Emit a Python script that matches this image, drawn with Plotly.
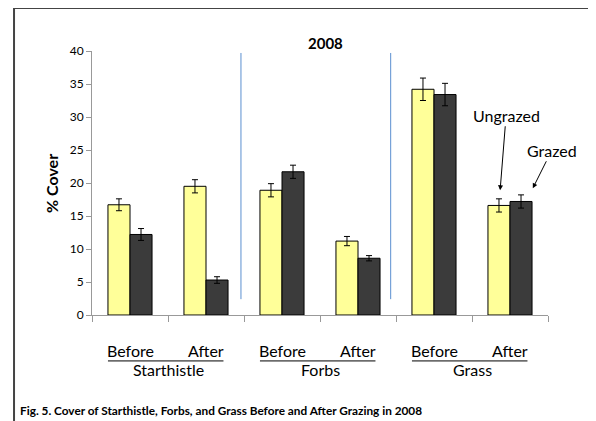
import plotly.graph_objects as go

groups = ["Starthistle", "Forbs", "Grass"]
periods = ["Before", "After", "Before", "After", "Before", "After"]
ungrazed = [16.7, 19.5, 18.9, 11.2, 34.2, 16.6]
grazed = [12.2, 5.3, 21.7, 8.6, 33.4, 17.2]
ungrazed_err = [0.9, 1.0, 1.0, 0.7, 1.7, 1.0]
grazed_err = [0.9, 0.5, 1.0, 0.4, 1.7, 1.0]
y_ticks = [0, 5, 10, 15, 20, 25, 30, 35, 40]

FONT = "Lato, Carlito, sans-serif"
xs = list(range(len(periods)))

fig = go.Figure()
fig.add_trace(go.Bar(
    x=xs, y=ungrazed, name="Ungrazed",
    marker=dict(color="#FFFF99", line=dict(color="#000000", width=1)),
    error_y=dict(type="data", array=ungrazed_err, color="#000000", thickness=1, width=3),
))
fig.add_trace(go.Bar(
    x=xs, y=grazed, name="Grazed",
    marker=dict(color="#3B3B3B", line=dict(color="#000000", width=1)),
    error_y=dict(type="data", array=grazed_err, color="#000000", thickness=1, width=3),
))

annotations = []
for i, p in enumerate(periods):
    annotations.append(dict(x=i, y=-0.133, xref="x", yref="paper", text=p,
                            showarrow=False, font=dict(size=16, color="#000"),
                            xanchor="center", yanchor="middle"))
shapes = []
for g, name in enumerate(groups):
    c = 2 * g + 0.5
    annotations.append(dict(x=c, y=-0.208, xref="x", yref="paper", text=name,
                            showarrow=False, font=dict(size=16, color="#000"),
                            xanchor="center", yanchor="middle"))
    shapes.append(dict(type="line", xref="x", yref="paper",
                       x0=2 * g - 0.29, x1=2 * g + 1.23, y0=-0.174, y1=-0.174,
                       line=dict(color="#000", width=1)))

# blue separators
for xv in [1.46, 3.43]:
    shapes.append(dict(type="line", xref="x", yref="y", x0=xv, x1=xv, y0=2.4, y1=39.7,
                       line=dict(color="#5B8FD0", width=1)))

# frame (top and left)
shapes.append(dict(type="line", xref="paper", yref="paper", x0=-0.171, x1=1.2,
                   y0=1.163, y1=1.163, line=dict(color="#444", width=2)))
shapes.append(dict(type="line", xref="paper", yref="paper", x0=-0.171, x1=-0.171,
                   y0=1.163, y1=-0.45, line=dict(color="#444", width=2)))

annotations += [
    dict(x=0.513, y=1.03, xref="paper", yref="paper", text="<b>2008</b>", showarrow=False,
         font=dict(size=15, color="#000"), xanchor="center", yanchor="middle"),
    dict(x=-0.09, y=0.5, xref="paper", yref="paper", text="<b>% Cover</b>", showarrow=False,
         textangle=-90, font=dict(size=16, color="#000"),
         xanchor="center", yanchor="middle"),
    dict(x=-0.162, y=-0.36, xref="paper", yref="paper",
         text="<b>Fig. 5. Cover of Starthistle, Forbs, and Grass Before and After Grazing in 2008</b>",
         showarrow=False, font=dict(size=11.8, color="#000"), xanchor="left", yanchor="middle"),
    dict(x=4.87, y=18.9, xref="x", yref="y", text="Ungrazed", showarrow=True,
         ax=6, ay=-75, arrowhead=2, arrowsize=1, arrowwidth=1, arrowcolor="#000",
         font=dict(size=16, color="#000")),
    dict(x=5.30, y=19.2, xref="x", yref="y", text="Grazed", showarrow=True,
         ax=19, ay=-38, arrowhead=2, arrowsize=1, arrowwidth=1, arrowcolor="#000",
         font=dict(size=16, color="#000")),
]

fig.update_layout(
    width=588, height=413,
    margin=dict(l=84, r=48, t=43, b=106),
    paper_bgcolor="white", plot_bgcolor="white",
    barmode="group", bargap=0.42, bargroupgap=0,
    showlegend=False,
    font=dict(family=FONT, color="#000"),
    xaxis=dict(range=[-0.5, 5.5], tickvals=[-0.5, 0.5, 1.5, 2.5, 3.5, 4.5, 5.5],
               showticklabels=False, ticks="outside", ticklen=6, tickcolor="#999",
               showline=True, linecolor="#999", linewidth=1, showgrid=False, zeroline=False),
    yaxis=dict(range=[0, 40], tickvals=y_ticks, ticks="outside", ticklen=5, tickcolor="#999",
               showline=True, linecolor="#999", linewidth=1, showgrid=False, zeroline=False,
               tickfont=dict(size=12, color="#000")),
    shapes=shapes, annotations=annotations,
)

fig.write_html("out.html")
